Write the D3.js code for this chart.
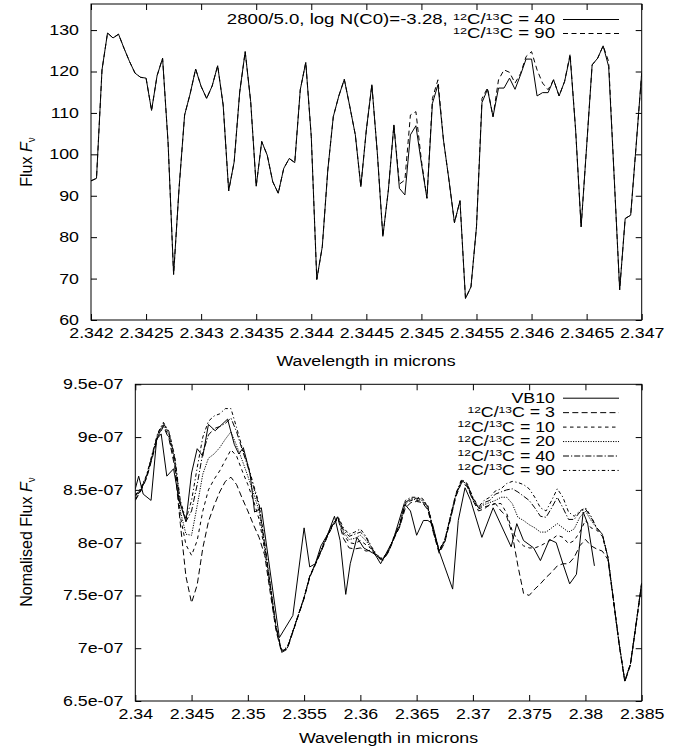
<!DOCTYPE html>
<html>
<head>
<meta charset="utf-8">
<script src="https://cdn.jsdelivr.net/npm/d3@7"></script>
<style>
  body { margin: 0; background: #fff; }
  svg { display: block; font-family: 'Liberation Sans', Arial, sans-serif; }
</style>
</head>
<body>
<div id="chart"></div>
<script>
// ---------- top panel: synthetic spectra, 2800/5.0 ----------
const topStart = 2.342;
const topStep = 0.00005;
const topRatio40 = [
  93.6, 94.2, 120.4, 129.3, 128.1, 129.0, 125.6, 122.4, 119.6, 118.6,
  118.4, 110.6, 119.0, 123.2, 102.7, 71.0, 92.0, 109.5, 114.6, 120.6,
  116.4, 113.5, 116.5, 121.4, 111.9, 91.2, 98.2, 115.0, 124.8, 112.7,
  92.3, 103.1, 99.8, 93.4, 90.6, 96.6, 99.0, 98.0, 115.6, 122.2,
  104.3, 69.8, 77.7, 96.2, 109.1, 114.1, 118.1, 111.5, 104.7, 92.2,
  105.9, 116.8, 100.2, 80.2, 91.4, 107.1, 91.8, 90.2, 104.7, 106.9,
  97.8, 89.4, 112.3, 116.8, 103.5, 93.8, 83.5, 88.8, 65.2, 68.0,
  82.5, 112.5, 115.7, 109.1, 116.0, 116.0, 118.4, 115.7, 119.2, 123.0,
  123.0, 114.1, 114.9, 114.9, 118.0, 114.1, 117.6, 123.8, 105.9, 82.5,
  101.9, 121.6, 123.2, 126.2, 121.2, 94.6, 67.3, 84.5, 85.3, 102.3,
  119.6
];
const topRatio90 = [
  93.6, 94.2, 120.4, 129.3, 128.1, 129.0, 125.6, 122.4, 119.6, 118.6,
  118.4, 110.6, 119.0, 123.2, 102.7, 71.0, 92.0, 109.5, 114.6, 120.6,
  116.4, 113.5, 116.5, 121.4, 111.9, 91.2, 98.2, 115.0, 124.8, 112.7,
  92.3, 103.1, 99.8, 93.4, 90.6, 96.6, 99.0, 98.0, 115.6, 122.2,
  104.3, 69.8, 77.7, 96.2, 109.1, 114.1, 118.1, 111.5, 104.7, 92.2,
  105.9, 116.8, 100.2, 80.2, 91.4, 107.1, 92.8, 93.8, 109.5, 110.3,
  98.5, 89.4, 113.5, 118.0, 103.5, 93.8, 83.5, 88.8, 65.2, 68.0,
  82.5, 113.5, 116.0, 109.1, 118.0, 120.4, 119.8, 117.2, 119.5, 123.6,
  124.8, 120.4, 117.2, 115.6, 118.0, 114.1, 117.6, 124.2, 105.9, 82.5,
  101.9, 121.6, 123.2, 126.2, 122.4, 94.6, 67.3, 84.5, 85.3, 102.3,
  119.6
];
const topXTickLabels = ['2.342', '2.3425', '2.343', '2.3435', '2.344', '2.3445',
  '2.345', '2.3455', '2.346', '2.3465', '2.347'];
const topYTickLabels = ['60', '70', '80', '90', '100', '110', '120', '130'];

// ---------- bottom panel: VB10 vs models (flux in units of 1e-7) ----------
const botStart = 2.34;
const botStep = 0.0005;
const vb10Wave = [
  2.3400, 2.3403, 2.3407, 2.3414, 2.3419, 2.3423, 2.3428, 2.3434, 2.3439, 2.3445,
  2.3450, 2.3455, 2.3460, 2.3465, 2.3471, 2.3476, 2.3482, 2.3488, 2.3492, 2.3496,
  2.3502, 2.3506, 2.3512, 2.3528, 2.3540, 2.3550, 2.3555, 2.3560, 2.3565, 2.3571,
  2.3577, 2.3582, 2.3587, 2.3591, 2.3597, 2.3603, 2.3608, 2.3613, 2.3618, 2.3623,
  2.3629, 2.3639, 2.36445, 2.3650, 2.3656, 2.3660, 2.3664, 2.3670, 2.3675, 2.3682,
  2.3687, 2.3693, 2.3698, 2.3708, 2.3718, 2.3734, 2.3739, 2.3745, 2.3754, 2.3760,
  2.3768, 2.3774, 2.3780, 2.3786, 2.3792, 2.3798, 2.3802, 2.3808
];
const vb10Flux = [
  8.51, 8.63, 8.46, 8.40, 8.98, 9.03, 8.63, 8.70, 8.40, 8.20,
  8.66, 8.89, 8.82, 9.12, 9.06, 9.11, 9.17, 8.93, 8.84, 8.90,
  8.65, 8.29, 8.33, 7.10, 7.31, 8.14, 7.77, 7.80, 7.97, 8.08,
  8.25, 8.02, 7.51, 7.80, 8.05, 7.95, 7.92, 7.89, 7.80, 7.90,
  8.02, 8.37, 8.30, 8.07, 8.21, 8.21, 8.18, 7.92, 7.77, 7.56,
  8.21, 8.52, 8.40, 8.05, 8.33, 7.96, 8.18, 8.02, 7.95, 7.83,
  8.03, 8.00, 7.80, 7.61, 7.70, 8.29, 8.18, 7.78
];
const ratio3 = [
  8.40, 8.49, 8.61, 8.80, 9.00, 9.10, 8.98, 8.72,
  8.18, 7.68, 7.43, 7.60, 7.95, 8.20, 8.35, 8.48, 8.58, 8.62, 8.55, 8.42, 8.30, 8.17, 8.05,
  7.88, 7.52, 7.17, 6.96, 6.99, 7.15, 7.31, 7.47, 7.67, 7.79, 7.91, 8.04, 8.15, 8.23,
  8.04, 7.95, 7.94, 7.95, 7.92,
  7.93, 7.86, 7.83, 7.91, 8.04, 8.15, 8.33, 8.38, 8.39, 8.38, 8.31, 8.09, 7.90, 8.00, 8.22, 8.44, 8.57, 8.53, 8.40, 8.30,
  8.32, 8.36, 8.37, 8.30, 8.25, 8.08, 7.78, 7.52, 7.50, 7.56, 7.61, 7.67, 7.72, 7.78, 7.80, 7.80, 7.86, 7.97, 8.03, 7.97, 7.94, 7.92,
  7.84, 7.44, 7.03, 6.68, 6.84, 7.22, 7.61
];
const ratio10 = [
  8.41, 8.50, 8.62, 8.81, 9.01, 9.11, 9.00, 8.76,
  8.25, 7.98, 7.88, 8.02, 8.30, 8.50, 8.60, 8.68, 8.78, 8.88, 8.82, 8.68, 8.55, 8.40, 8.22,
  7.93, 7.57, 7.20, 6.97, 7.00, 7.16, 7.32, 7.48, 7.68, 7.80, 7.92, 8.05, 8.16, 8.24,
  8.08, 8.00, 7.99, 8.02, 7.98,
  7.94, 7.87, 7.84, 7.92, 8.05, 8.16, 8.36, 8.40, 8.40, 8.39, 8.32, 8.10, 7.91, 8.01, 8.23, 8.45, 8.58, 8.54, 8.41, 8.32,
  8.34, 8.35, 8.37, 8.37, 8.28, 8.11, 8.02, 7.97, 7.95, 7.95, 7.97, 8.00, 8.03, 8.07, 8.05, 7.99, 8.02, 8.10, 8.21, 8.14, 8.12, 8.06,
  7.86, 7.45, 7.04, 6.69, 6.85, 7.23, 7.62
];
const ratio20 = [
  8.42, 8.50, 8.62, 8.82, 9.02, 9.12, 9.02, 8.78,
  8.30, 8.08, 8.07, 8.35, 8.65, 8.80, 8.84, 8.90, 8.98, 9.05, 8.92, 8.78, 8.63, 8.47, 8.30,
  7.95, 7.58, 7.20, 6.97, 7.00, 7.16, 7.32, 7.48, 7.68, 7.80, 7.92, 8.05, 8.16, 8.24,
  8.10, 8.03, 8.04, 8.07, 8.02,
  7.94, 7.87, 7.84, 7.92, 8.05, 8.16, 8.37, 8.41, 8.41, 8.40, 8.33, 8.11, 7.92, 8.02, 8.24, 8.46, 8.59, 8.55, 8.42, 8.33,
  8.36, 8.38, 8.40, 8.43, 8.43, 8.37, 8.24, 8.21, 8.17, 8.14, 8.10, 8.10, 8.14, 8.18, 8.14, 8.10, 8.13, 8.24, 8.30, 8.21, 8.14, 8.08,
  7.86, 7.45, 7.04, 6.69, 6.85, 7.23, 7.62
];
const ratio40 = [
  8.44, 8.51, 8.63, 8.83, 9.03, 9.13, 9.04, 8.80,
  8.38, 8.20, 8.30, 8.55, 8.85, 9.02, 9.08, 9.10, 9.13, 9.18, 9.05, 8.88, 8.72, 8.53, 8.35,
  7.98, 7.59, 7.20, 6.97, 7.00, 7.16, 7.32, 7.48, 7.68, 7.80, 7.92, 8.05, 8.16, 8.24,
  8.12, 8.06, 8.08, 8.10, 8.05,
  7.95, 7.87, 7.84, 7.92, 8.05, 8.17, 8.38, 8.42, 8.42, 8.41, 8.34, 8.11, 7.92, 8.02, 8.24, 8.46, 8.59, 8.55, 8.42, 8.33,
  8.38, 8.40, 8.46, 8.48, 8.50, 8.51, 8.48, 8.44, 8.40, 8.33, 8.25, 8.24, 8.33, 8.43, 8.33, 8.22, 8.22, 8.29, 8.32, 8.24, 8.14, 8.08,
  7.86, 7.45, 7.04, 6.69, 6.85, 7.23, 7.62
];
const ratio90 = [
  8.45, 8.52, 8.64, 8.84, 9.04, 9.14, 9.05, 8.82,
  8.40, 8.22, 8.40, 8.71, 9.00, 9.15, 9.20, 9.22, 9.27, 9.27, 9.09, 8.90, 8.74, 8.55, 8.37,
  8.00, 7.60, 7.21, 6.98, 7.01, 7.16, 7.32, 7.48, 7.68, 7.80, 7.93, 8.06, 8.17, 8.25,
  8.14, 8.08, 8.10, 8.13, 8.06,
  7.96, 7.88, 7.85, 7.93, 8.06, 8.18, 8.40, 8.43, 8.43, 8.42, 8.35, 8.12, 7.93, 8.03, 8.25, 8.47, 8.60, 8.56, 8.43, 8.34,
  8.40, 8.43, 8.49, 8.51, 8.56, 8.58, 8.57, 8.55, 8.51, 8.43, 8.33, 8.30, 8.40, 8.51, 8.43, 8.29, 8.25, 8.30, 8.33, 8.25, 8.14, 8.08,
  7.86, 7.45, 7.04, 6.69, 6.85, 7.23, 7.62
];
const botXTickLabels = ['2.34', '2.345', '2.35', '2.355', '2.36', '2.365', '2.37',
  '2.375', '2.38', '2.385'];
const botYTickValues = [6.5, 7, 7.5, 8, 8.5, 9, 9.5];
const botYTickLabels = ['6.5e-07', '7e-07', '7.5e-07', '8e-07', '8.5e-07', '9e-07', '9.5e-07'];

// ---------- drawing ----------
const SX = 1.27;        // gnuplot text is rendered wide
const FONT = 14;
const TICK = 6;

const svg = d3.select('#chart')
  .append('svg')
  .attr('width', 684)
  .attr('height', 751);

// text placed at (x, y) and stretched horizontally
const wideText = (parent, x, y, anchor, sx = SX) => parent.append('g')
  .attr('transform', `translate(${x},${y}) scale(${sx},1)`)
  .append('text')
  .attr('text-anchor', anchor)
  .style('font-size', FONT + 'px');

// 12C/13C label built with tspans
const isoLabel = (txt, prefix, value) => {
  if (prefix) txt.append('tspan').text(prefix);
  txt.append('tspan').attr('dy', -4.5).style('font-size', '9.5px').text('12');
  txt.append('tspan').attr('dy', 4.5).text('C/');
  txt.append('tspan').attr('dy', -4.5).style('font-size', '9.5px').text('13');
  txt.append('tspan').attr('dy', 4.5).text('C = ' + value);
};

const drawFrame = (g, x, y, w, h, xTicks, yTicks, xLabels, yLabels, yPad) => {
  g.append('g')
    .attr('transform', `translate(0,${h})`)
    .call(d3.axisBottom(x).tickValues(xTicks).tickSizeInner(-TICK).tickSizeOuter(0)
      .tickPadding(8).tickFormat((d, i) => xLabels[i]));
  g.append('g')
    .call(d3.axisTop(x).tickValues(xTicks).tickSizeInner(-TICK).tickSizeOuter(0).tickFormat(''));
  g.append('g')
    .call(d3.axisLeft(y).tickValues(yTicks).tickSizeInner(-TICK).tickSizeOuter(0)
      .tickPadding(yPad).tickFormat((d, i) => yLabels[i]));
  g.append('g')
    .attr('transform', `translate(${w},0)`)
    .call(d3.axisRight(y).tickValues(yTicks).tickSizeInner(-TICK).tickSizeOuter(0).tickFormat(''));

  g.selectAll('.domain').remove();
  g.selectAll('.tick line').attr('stroke', '#000');
  g.selectAll('.tick text')
    .attr('fill', '#000')
    .style('font-size', FONT + 'px')
    .style('font-family', "'Liberation Sans', Arial, sans-serif")
    .attr('transform', `scale(${SX},1)`);
  g.selectAll('.tick text').filter(function () { return +d3.select(this).attr('x') < 0; })
    .attr('x', -yPad / SX);

  g.append('rect')
    .attr('width', w)
    .attr('height', h)
    .attr('fill', 'none')
    .attr('stroke', '#000')
    .attr('stroke-width', 1);
};

const yTitle = (x, y, main) => {
  const t = svg.append('g')
    .attr('transform', `translate(${x},${y}) rotate(-90)`)
    .append('text')
    .attr('text-anchor', 'middle')
    .style('font-size', '16px');
  t.append('tspan').text(main + ' ');
  t.append('tspan').style('font-style', 'italic').text('F');
  t.append('tspan').attr('dy', 3).style('font-size', '10px').text('\u03bd');
};

// 1. Top panel
const drawTop = () => {
  const m = { left: 91, top: 4 };
  const w = 550.7, h = 316;
  const g = svg.append('g').attr('transform', `translate(${m.left},${m.top})`);

  const x = d3.scaleLinear().domain([2.342, 2.347]).range([0, w]);
  const y = d3.scaleLinear().domain([60, 136.3]).range([h, 0]);

  g.append('clipPath').attr('id', 'clipTop')
    .append('rect').attr('width', w).attr('height', h);

  const line = d3.line()
    .x((d, i) => x(topStart + i * topStep))
    .y(d => y(d));

  g.append('path').datum(topRatio90)
    .attr('clip-path', 'url(#clipTop)')
    .attr('d', line).attr('fill', 'none').attr('stroke', '#000')
    .attr('stroke-width', 1).attr('stroke-dasharray', '5,3.5');
  g.append('path').datum(topRatio40)
    .attr('clip-path', 'url(#clipTop)')
    .attr('d', line).attr('fill', 'none').attr('stroke', '#000')
    .attr('stroke-width', 1);

  drawFrame(g, x, y, w, h,
    topXTickLabels.map(Number), topYTickLabels.map(Number),
    topXTickLabels, topYTickLabels, 12);

  // legend
  const l1 = wideText(svg, 555, 24, 'end', 1.33);
  isoLabel(l1, '2800/5.0, log N(C0)=-3.28, ', '40');
  const l2 = wideText(svg, 555, 38, 'end', 1.33);
  isoLabel(l2, '', '90');
  svg.append('line').attr('x1', 563).attr('x2', 619).attr('y1', 19.5).attr('y2', 19.5)
    .attr('stroke', '#000');
  svg.append('line').attr('x1', 563).attr('x2', 619).attr('y1', 33.5).attr('y2', 33.5)
    .attr('stroke', '#000').attr('stroke-dasharray', '5,3.5');

  wideText(svg, 366, 366, 'middle').text('Wavelength in microns');
  yTitle(32, 162, 'Flux');
};

// 2. Bottom panel
const drawBottom = () => {
  const m = { left: 135.3, top: 384.3 };
  const w = 506.4, h = 316.7;
  const g = svg.append('g').attr('transform', `translate(${m.left},${m.top})`);

  const x = d3.scaleLinear().domain([2.34, 2.385]).range([0, w]);
  const y = d3.scaleLinear().domain([6.5, 9.5]).range([h, 0]);

  g.append('clipPath').attr('id', 'clipBot')
    .append('rect').attr('width', w).attr('height', h);

  const modelLine = d3.line()
    .x((d, i) => x(botStart + i * botStep))
    .y(d => y(d));
  const obsLine = d3.line()
    .x((d, i) => x(vb10Wave[i]))
    .y(d => y(d));

  const series = [
    { label: 'VB10', data: vb10Flux, gen: obsLine, dash: null },
    { label: '3', data: ratio3, gen: modelLine, dash: '6,3.3' },
    { label: '10', data: ratio10, gen: modelLine, dash: '3.5,3.5' },
    { label: '20', data: ratio20, gen: modelLine, dash: '1.2,1.3' },
    { label: '40', data: ratio40, gen: modelLine, dash: '6,2,1.2,2' },
    { label: '90', data: ratio90, gen: modelLine, dash: '3.5,2.5,1.2,2.5' }
  ];

  series.slice().reverse().forEach(s => {
    g.append('path').datum(s.data)
      .attr('clip-path', 'url(#clipBot)')
      .attr('d', s.gen)
      .attr('fill', 'none')
      .attr('stroke', '#000')
      .attr('stroke-width', 1)
      .attr('stroke-dasharray', s.dash);
  });

  drawFrame(g, x, y, w, h,
    botXTickLabels.map(Number), botYTickValues,
    botXTickLabels, botYTickLabels, 12);

  // legend
  series.forEach((s, i) => {
    const base = 402.7 + i * 14.45;
    const t = wideText(svg, 555, base, 'end');
    if (s.label === 'VB10') t.text('VB10');
    else isoLabel(t, '', s.label);
    svg.append('line')
      .attr('x1', 563).attr('x2', 619)
      .attr('y1', base - 4.5).attr('y2', base - 4.5)
      .attr('stroke', '#000')
      .attr('stroke-dasharray', s.dash);
  });

  wideText(svg, 388.5, 743, 'middle').text('Wavelength in microns');
  yTitle(32, 542, 'Nomalised Flux');
};

drawTop();
drawBottom();
</script>
</body>
</html>
